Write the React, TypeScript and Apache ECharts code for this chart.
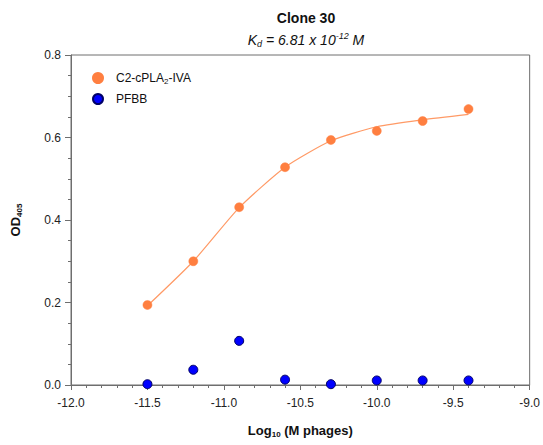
import React, { useEffect, useRef } from "react";
import * as echarts from "echarts";

const xValues = [-11.5, -11.2, -10.9, -10.6, -10.3, -10.0, -9.7, -9.4];
const c2Values = [0.194, 0.3, 0.431, 0.528, 0.594, 0.616, 0.64, 0.669];
const fitValues = [0.192, 0.3, 0.43, 0.528, 0.592, 0.626, 0.643, 0.656];
const pfbbValues = [0.002, 0.037, 0.107, 0.013, 0.002, 0.011, 0.011, 0.011];
const xTicks = [-12.0, -11.5, -11.0, -10.5, -10.0, -9.5, -9.0];
const yTicks = [0.0, 0.2, 0.4, 0.6, 0.8];

const FONT = "Liberation Sans, Arial, sans-serif";

export default function App() {
  const ref = useRef<HTMLDivElement>(null);
  useEffect(() => {
    if (!ref.current) return;
    const chart = echarts.init(ref.current, null, { renderer: "svg" });
    const pair = (ys: number[]) => xValues.map((x, i) => [x, ys[i]]);
    chart.setOption({
      animation: false,
      backgroundColor: "#ffffff",
      title: {
        text: "Clone 30",
        subtext: "{i|K}{sub|d}{i| = 6.81 x 10}{sup|-12}{i| M}",
        left: 301,
        textAlign: "center",
        top: 6,
        itemGap: 6,
        textStyle: { fontFamily: FONT, fontSize: 14, fontWeight: "bold", color: "#111" },
        subtextStyle: {
          fontFamily: FONT,
          color: "#111",
          rich: {
            i: { fontFamily: FONT, fontSize: 14, fontStyle: "italic", color: "#111" },
            sub: { fontFamily: FONT, fontSize: 9, fontStyle: "italic", color: "#111", verticalAlign: "bottom", padding: [8, 0, 0, 0] },
            sup: { fontFamily: FONT, fontSize: 9, fontStyle: "italic", color: "#111", verticalAlign: "top", padding: [0, 0, 8, 0] },
          },
        },
      },
      legend: {
        orient: "vertical",
        left: 87,
        top: 67,
        itemGap: 8,
        itemWidth: 10,
        itemHeight: 10,
        icon: "circle",
        data: ["C2-cPLA2-IVA", "PFBB"],
        formatter: (n: string) => (n === "PFBB" ? "{a|PFBB}" : "{a|C2-cPLA}{s|2}{a|-IVA}"),
        textStyle: {
          fontFamily: FONT,
          padding: [0, 0, 0, 8],
          rich: {
            a: { fontFamily: FONT, fontSize: 12, color: "#111" },
            s: { fontFamily: FONT, fontSize: 8, color: "#111", verticalAlign: "bottom", padding: [6, 0, 0, 0] },
          },
        },
      },
      grid: {
        left: 71,
        right: 12,
        top: 55,
        bottom: 60,
        show: true,
        borderColor: "#6e6e6e",
        borderWidth: 1,
        backgroundColor: "transparent",
      },
      xAxis: {
        type: "value",
        min: -12,
        max: -9,
        interval: 0.5,
        name: "{b|Log}{s|10}{b| (M phages)}",
        nameLocation: "middle",
        nameGap: 38,
        nameTextStyle: {
          rich: {
            b: { fontFamily: FONT, fontSize: 13, fontWeight: "bold", color: "#111" },
            s: { fontFamily: FONT, fontSize: 8, fontWeight: "bold", color: "#111", verticalAlign: "bottom", padding: [7, 0, 0, 0] },
          },
        },
        axisLine: { show: true, onZero: false, lineStyle: { color: "#6e6e6e", width: 1 } },
        axisTick: { show: true, inside: false, length: 5, lineStyle: { color: "#6e6e6e" } },
        minorTick: { show: true, splitNumber: 5, length: 3, lineStyle: { color: "#6e6e6e" } },
        splitLine: { show: false },
        axisLabel: {
          fontFamily: FONT,
          fontSize: 12,
          color: "#222",
          margin: 12,
          formatter: (v: number) => (xTicks.some((t) => Math.abs(t - v) < 1e-9) ? v.toFixed(1) : ""),
        },
      },
      yAxis: {
        type: "value",
        min: 0,
        max: 0.8,
        interval: 0.2,
        name: "{b|OD}{s|405}",
        nameLocation: "middle",
        nameGap: 48,
        nameTextStyle: {
          rich: {
            b: { fontFamily: FONT, fontSize: 13, fontWeight: "bold", color: "#111" },
            s: { fontFamily: FONT, fontSize: 8, fontWeight: "bold", color: "#111", verticalAlign: "bottom", padding: [7, 0, 0, 0] },
          },
        },
        axisLine: { show: true, onZero: false, lineStyle: { color: "#6e6e6e", width: 1 } },
        axisTick: { show: true, inside: false, length: 6, lineStyle: { color: "#6e6e6e" } },
        minorTick: { show: true, splitNumber: 4, length: 3, lineStyle: { color: "#6e6e6e" } },
        splitLine: { show: false },
        axisLabel: {
          fontFamily: FONT,
          fontSize: 12,
          color: "#222",
          margin: 10,
          formatter: (v: number) => (yTicks.some((t) => Math.abs(t - v) < 1e-9) ? v.toFixed(1) : ""),
        },
      },
      series: [
        {
          name: "fit",
          type: "line",
          data: pair(fitValues),
          smooth: 0.2,
          symbol: "none",
          lineStyle: { color: "#ff9a66", width: 1.2 },
          z: 1,
        },
        {
          name: "C2-cPLA2-IVA",
          type: "scatter",
          data: pair(c2Values),
          symbol: "circle",
          symbolSize: 9,
          itemStyle: { color: "#ff7f40", borderColor: "#ff7f40", borderWidth: 0.5, opacity: 1 },
          z: 3,
        },
        {
          name: "PFBB",
          type: "scatter",
          data: pair(pfbbValues),
          symbol: "circle",
          symbolSize: 9,
          itemStyle: { color: "#0000ff", borderColor: "#000066", borderWidth: 1, opacity: 1 },
          z: 3,
        },
      ],
    });
    return () => chart.dispose();
  }, []);
  return (
    <div
      ref={ref}
      style={{ position: "fixed", left: 0, top: 0, width: 543, height: 445, background: "#fff" }}
    />
  );
}
